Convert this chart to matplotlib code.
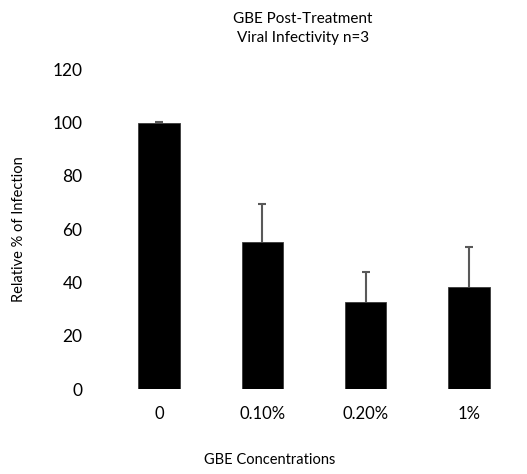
import matplotlib
matplotlib.use("Agg")
import matplotlib.pyplot as plt
import numpy as np

# GBE post-treatment infectivity, mean of n=3 with SD (upper only)
concentrations = ["0", "0.10%", "0.20%", "1%"]
infection_pct = [100.0, 55.2, 32.9, 38.3]
infection_sd = [0.3, 14.2, 11.1, 15.1]

plt.rcParams["font.family"] = ["Lato", "DejaVu Sans"]

fig = plt.figure(figsize=(5.27, 4.74), dpi=100)
ax = fig.add_axes([0.204, 0.1787, 0.784, 0.6751])

x = np.arange(len(concentrations))
heights = np.array(infection_pct)
sd = np.array(infection_sd)

ax.bar(x, heights, width=0.4, color="black", edgecolor="#3a3a3a", linewidth=0.6, zorder=2)
# upper-only error bars, cap drawn only at the top end
ax.errorbar(x, heights, yerr=[np.zeros_like(sd), sd], fmt="none",
            ecolor="#595959", elinewidth=1.5, capsize=0, zorder=3)
ax.plot(x, heights + sd, linestyle="none", marker="_", markersize=6,
        markeredgewidth=1.5, color="#595959", zorder=3)

ax.set_xlim(-0.5, 3.5)
ax.set_ylim(0, 120)
ax.set_yticks(np.arange(0, 121, 20))
ax.set_xticks(x)
ax.set_xticklabels(concentrations)

for side in ["top", "right", "left", "bottom"]:
    ax.spines[side].set_visible(False)
ax.tick_params(axis="y", length=0, pad=18, labelsize=12.5, colors="black")
ax.tick_params(axis="x", length=0, pad=12, labelsize=12, colors="black")

ax.set_ylabel("Relative % of Infection", fontsize=10.5, labelpad=19)
fig.text(0.512, 0.015, "GBE Concentrations", fontsize=10.5,
         ha="center", va="bottom")
fig.text(0.575, 0.975, "GBE Post-Treatment\nViral Infectivity n=3", fontsize=11,
         ha="center", va="top", linespacing=1.45)

fig.savefig("out.png", dpi=100)
